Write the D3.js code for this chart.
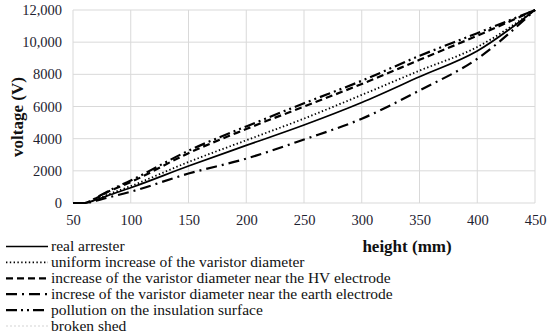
<!DOCTYPE html>
<html lang="en">
<head>
  <meta charset="UTF-8" />
  <title>Voltage distribution along arrester</title>
  <script src="https://cdn.jsdelivr.net/npm/d3@7"></script>
  <style>
    body { margin: 0; background: #fff; }
    svg { display: block; }
  </style>
</head>
<body>
<script>
  // data
  const heights = [50, 60, 70, 80, 100, 150, 200, 250, 300, 350, 400, 450];
  const realArrester = [0, 0, 200, 460, 950, 2300, 3580, 4850, 6250, 7850, 9450, 12000];
  const uniformIncrease = [0, 0, 230, 520, 1050, 2550, 3900, 5250, 6720, 8230, 9700, 12000];
  const hvIncrease = [0, 0, 300, 680, 1300, 3100, 4600, 6000, 7400, 8900, 10400, 12000];
  const earthIncrease = [0, 0, 140, 330, 700, 1830, 2760, 3950, 5240, 7000, 8970, 12000];
  const pollution = [0, 0, 320, 720, 1400, 3250, 4760, 6200, 7600, 9150, 10560, 12000];
  const brokenShed = [0, 0, 200, 460, 950, 2300, 3580, 4850, 6250, 7850, 9450, 12000];

  const seriesNames = [
    "real arrester",
    "uniform increase of the varistor diameter",
    "increase of the varistor diameter near the HV electrode",
    "increse of the varistor diameter near the earth electrode",
    "pollution on the insulation surface",
    "broken shed"
  ];
  const xTicks = [50, 100, 150, 200, 250, 300, 350, 400, 450];
  const yTicks = [0, 2000, 4000, 6000, 8000, 10000, 12000];

  const series = [
    { name: seriesNames[0], values: realArrester, dash: null, color: "#000", w: 1.7 },
    { name: seriesNames[1], values: uniformIncrease, dash: "1.4,2.4", color: "#000", w: 1.8 },
    { name: seriesNames[2], values: hvIncrease, dash: "7,4", color: "#000", w: 2.2 },
    { name: seriesNames[3], values: earthIncrease, dash: "11,5,2,5", color: "#000", w: 2.2 },
    { name: seriesNames[4], values: pollution, dash: "11,4,2,4,2,4", color: "#000", w: 2.2 },
    { name: seriesNames[5], values: brokenShed, dash: "2,2", color: "#c8c8c8", w: 0.8 }
  ];

  const W = 550, H = 333;
  const m = { left: 73, right: 15, top: 10, bottom: 130 };
  const FONT = "Liberation Serif";

  const svg = d3.select("body").append("svg").attr("width", W).attr("height", H);

  const x = d3.scaleLinear().domain([50, 450]).range([m.left, W - m.right]);
  const y = d3.scaleLinear().domain([0, 12000]).range([H - m.bottom, m.top]);

  // gridlines
  svg.append("g").selectAll("line.v")
    .data(xTicks).enter().append("line")
    .attr("x1", d => x(d)).attr("x2", d => x(d))
    .attr("y1", y(0)).attr("y2", y(12000))
    .attr("stroke", "#d9d9d9").attr("stroke-width", 1);
  svg.append("g").selectAll("line.h")
    .data(yTicks).enter().append("line")
    .attr("x1", x(50)).attr("x2", x(450))
    .attr("y1", d => y(d)).attr("y2", d => y(d))
    .attr("stroke", "#d9d9d9").attr("stroke-width", 1);

  const fmtY = d => d >= 10000 ? d3.format(",")(d) : String(d);

  svg.append("g")
    .attr("transform", `translate(${m.left - 4},0)`)
    .call(d3.axisLeft(y).tickValues(yTicks).tickFormat(fmtY).tickSize(0).tickPadding(7))
    .call(g => g.select(".domain").remove())
    .attr("font-family", FONT).attr("font-size", 14.5)
    .call(g => g.selectAll("text").attr("fill", "#1e2230"));

  svg.append("g")
    .attr("transform", `translate(0,${y(0) + 6})`)
    .call(d3.axisBottom(x).tickValues(xTicks).tickSize(0).tickPadding(6))
    .call(g => g.select(".domain").remove())
    .attr("font-family", FONT).attr("font-size", 14.5)
    .call(g => g.selectAll("text").attr("fill", "#1e2230"));

  // lines
  const line = d3.line()
    .x((d, i) => x(heights[i]))
    .y(d => y(d))
    .curve(d3.curveMonotoneX);

  svg.append("g").selectAll("path")
    .data(series.slice().reverse()).enter().append("path")
    .attr("d", d => line(d.values))
    .attr("fill", "none")
    .attr("stroke", d => d.color)
    .attr("stroke-width", d => d.w)
    .attr("stroke-dasharray", d => d.dash);

  // axis titles
  svg.append("text")
    .attr("font-family", FONT)
    .attr("x", 407).attr("y", 252)
    .attr("text-anchor", "middle")
    .attr("font-size", 17).attr("font-weight", "bold")
    .attr("fill", "#111")
    .text("height (mm)");

  svg.append("text")
    .attr("font-family", FONT)
    .attr("transform", "translate(23,117) rotate(-90)")
    .attr("text-anchor", "middle")
    .attr("font-size", 17).attr("font-weight", "bold")
    .attr("fill", "#111")
    .text("voltage (V)");

  // legend
  const legend = svg.append("g");
  const rowY = d3.scaleLinear().domain([0, 5]).range([246.5, 326]);
  const rows = legend.selectAll("g").data(series).enter().append("g")
    .attr("transform", (d, i) => `translate(0,${rowY(i)})`);
  rows.append("line")
    .attr("x1", 6).attr("x2", 48)
    .attr("y1", 0).attr("y2", 0)
    .attr("stroke", d => d.color)
    .attr("stroke-width", d => d.w)
    .attr("stroke-dasharray", d => d.dash);
  rows.append("text")
    .attr("font-family", FONT)
    .attr("x", 51).attr("y", 4.5)
    .attr("font-size", 15.5)
    .attr("fill", "#111")
    .text(d => d.name);
</script>
</body>
</html>
